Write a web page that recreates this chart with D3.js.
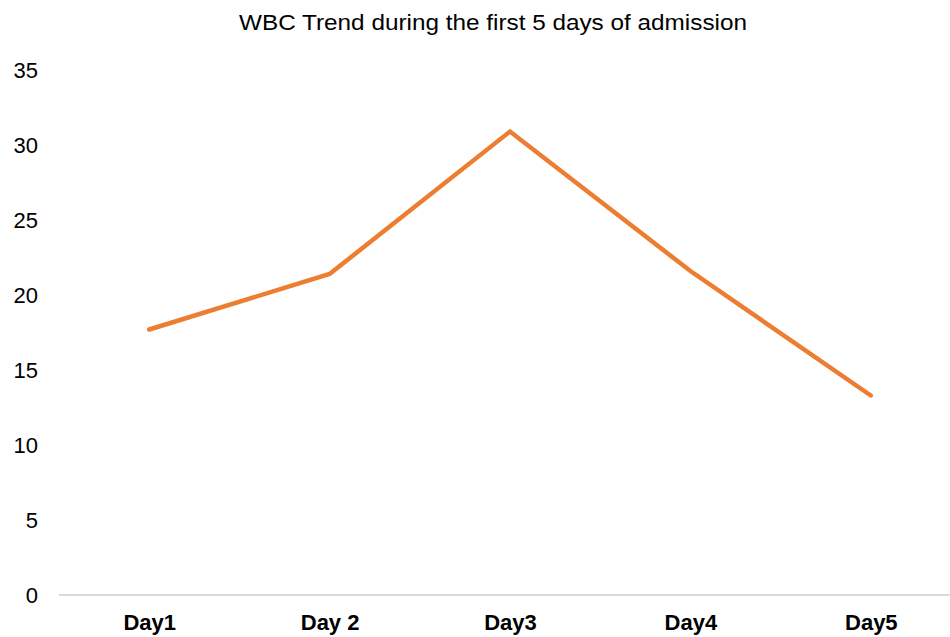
<!DOCTYPE html>
<html>
<head>
<meta charset="utf-8">
<script src="https://cdn.jsdelivr.net/npm/d3@7"></script>
<style>
  body { margin: 0; background: #fff; }
  text { font-family: "Liberation Sans", Arial, sans-serif; fill: #000; }
</style>
</head>
<body>
<div id="plot"></div>
<script>

var days = ["Day1", "Day 2", "Day3", "Day4", "Day5"];
var wbc = [17.7, 21.4, 30.9, 21.6, 13.3];
var yTicks = [0, 5, 10, 15, 20, 25, 30, 35];
var title = "WBC Trend during the  first 5 days of admission";

var data = days.map((d, i) => ({ day: d, value: wbc[i] }));

buildChart(data);

function buildChart(data){

    var width = 950;
    var height = 637;

    var margin = { left: 59, right: -11, top: 70, bottom: 42 };

    var svg = d3.select("#plot")
        .append("svg")
        .attr("width", width)
        .attr("height", height);

    var xScale = d3.scalePoint()
        .domain(days)
        .range([margin.left, width - margin.right])
        .padding(0.5);

    var yScale = d3.scaleLinear()
        .domain([0, 35])
        .range([height - margin.bottom, margin.top]);

    // title
    svg.append("text")
        .attr("x", 493)
        .attr("y", 30)
        .attr("text-anchor", "middle")
        .attr("textLength", 508)
        .attr("lengthAdjust", "spacingAndGlyphs")
        .style("font-size", "22px")
        .text(title);

    // y axis labels (no line)
    var yAxis = d3.axisLeft(yScale).tickValues(yTicks).tickSize(0).tickPadding(0);
    var yg = svg.append("g")
        .attr("transform", "translate(38,0)")
        .call(yAxis);
    yg.select(".domain").remove();
    yg.selectAll("text")
        .style("font-size", "22px")
        .attr("dy", "0.36em");

    // baseline
    svg.append("line")
        .attr("x1", margin.left)
        .attr("x2", width)
        .attr("y1", yScale(0))
        .attr("y2", yScale(0))
        .attr("stroke", "#d9d9d9")
        .attr("stroke-width", 2);

    // x axis labels
    var xAxis = d3.axisBottom(xScale).tickSize(0).tickPadding(0);
    var xg = svg.append("g")
        .attr("transform", "translate(0," + (yScale(0) + 35) + ")")
        .call(xAxis);
    xg.select(".domain").remove();
    xg.selectAll("text")
        .attr("dy", "0")
        .style("font-size", "22px")
        .style("font-weight", "bold");

    var line = d3.line()
        .x(d => xScale(d.day))
        .y(d => yScale(d.value));

    svg.append("path")
        .datum(data)
        .attr("d", line)
        .attr("fill", "none")
        .attr("stroke", "#ED7D31")
        .attr("stroke-width", 4.5)
        .attr("stroke-linecap", "round")
        .attr("stroke-linejoin", "miter");

}
</script>
</body>
</html>
